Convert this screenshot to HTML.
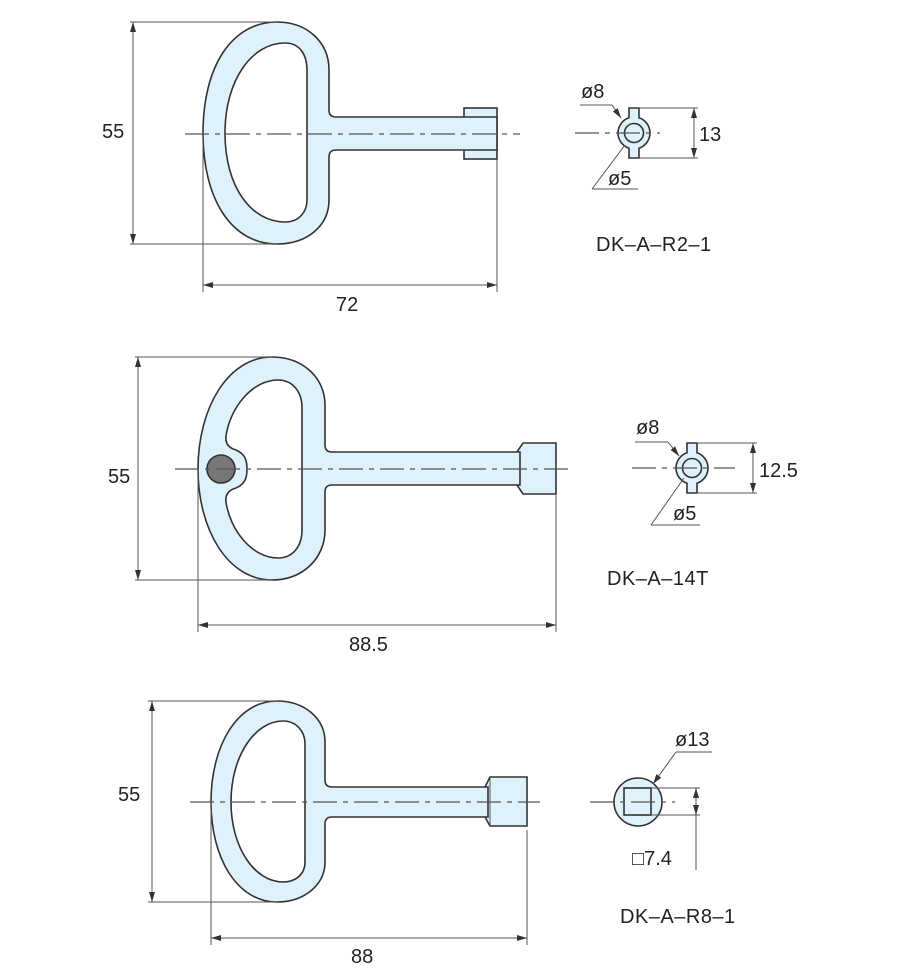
<!DOCTYPE html>
<html><head><meta charset="utf-8"><style>
html,body{margin:0;padding:0;background:#fff;}
svg{display:block;}
text{font-family:"Liberation Sans","DejaVu Sans",sans-serif;font-size:20px;fill:#222;}
</style></head><body>
<svg width="900" height="973" viewBox="0 0 900 973" xmlns="http://www.w3.org/2000/svg">
<defs>
<marker id="a" viewBox="0 0 10 6" refX="10" refY="3" markerWidth="10" markerHeight="6" orient="auto-start-reverse" markerUnits="userSpaceOnUse"><path d="M0,0 L10,3 L0,6 Z" fill="#333"/></marker>
</defs>
<g fill="#dff1fb" stroke="#333" stroke-width="1.6">
<!-- Key 1 -->
<rect x="464" y="108" width="33" height="51"/>
<path fill-rule="evenodd" d="M277,22 C307,22 329,42 329,70 L329,110 Q329,117 336,117 L497,117 L497,150 L336,150 Q329,150 329,157 L329,200 C329,226 307,244 277,244 C232,244 203,200 203,133 C203,66 232,22 277,22 Z M285,43 C300,43 307,55 307,70 L307,200 C307,212 299,222 285,222 C252,222 225,188 225,133 C225,80 252,43 285,43 Z"/>
<!-- Key 2 -->
<path d="M517,452 L523,443 L556,443 L556,494 L523,494 L517,485 Z"/>
<path fill-rule="evenodd" d="M272,357 C303,357 325,378 325,405 L325,445 Q325,452 332,452 L520,452 L520,485 L332,485 Q325,485 325,492 L325,530 C325,558 303,580 272,580 C228,580 198,530 198,469 C198,408 228,357 272,357 Z M278,380 C293,380 302,392 302,408 L302,530 C302,546 293,558 278,558 C252,558 230,530 226,502 C225,494 229,490 236,488 C245,484 247,478 247,469 C247,460 245,454 236,450 C229,448 225,444 226,436 C230,408 252,380 278,380 Z"/>
<!-- Key 3 -->
<path d="M485,787 L490,777 L527,777 L527,826 L490,826 L485,817 Z"/>
<line x1="490" y1="777" x2="490" y2="826" stroke-width="0.8"/>
<path fill-rule="evenodd" d="M277,701 C304,701 325,718 325,742 L325,780 Q325,787 332,787 L488,787 L488,817 L332,817 Q325,817 325,824 L325,862 C325,885 304,902 277,902 C237,902 211,858 211,802 C211,746 237,701 277,701 Z M283,721 C296,721 305,731 305,744 L305,862 C305,874 296,882 283,882 C255,882 231,848 231,802 C231,756 255,721 283,721 Z"/>
<!-- Sections -->
<path d="M629,108 L639,108 L639,117.8 A16,16 0 0 1 639,148.2 L639,158 L629,158 L629,148.2 A16,16 0 0 1 629,117.8 Z"/>
<circle cx="634" cy="133" r="9.5"/>
<path d="M687,443 L697,443 L697,452.8 A16,16 0 0 1 697,483.2 L697,493 L687,493 L687,483.2 A16,16 0 0 1 687,452.8 Z"/>
<circle cx="692" cy="468" r="9.5"/>
<circle cx="638" cy="802" r="24"/>
<rect x="624" y="788" width="27" height="27"/>
</g>
<circle cx="221" cy="469" r="14" fill="#777" stroke="#333" stroke-width="1.6"/>
<!-- centerlines -->
<g stroke="#555" stroke-width="1.2" stroke-dasharray="24 6 5 6">
<line x1="185" y1="134" x2="520" y2="134"/>
<line x1="575" y1="133" x2="660" y2="133"/>
<line x1="175" y1="469" x2="570" y2="469"/>
<line x1="632" y1="468" x2="735" y2="468"/>
<line x1="190" y1="802" x2="540" y2="802"/>
<line x1="590" y1="802" x2="675" y2="802"/>
</g>
<!-- dimension lines -->
<g stroke="#555" stroke-width="1" fill="none">
<line x1="130" y1="22" x2="277" y2="22"/><line x1="130" y1="244" x2="277" y2="244"/>
<line x1="133" y1="22" x2="133" y2="244" marker-start="url(#a)" marker-end="url(#a)"/>
<line x1="203" y1="134" x2="203" y2="292"/><line x1="497" y1="160" x2="497" y2="292"/>
<line x1="203" y1="285" x2="497" y2="285" marker-start="url(#a)" marker-end="url(#a)"/>
<line x1="639" y1="108" x2="698" y2="108"/><line x1="639" y1="158" x2="698" y2="158"/>
<line x1="694" y1="108" x2="694" y2="158" marker-start="url(#a)" marker-end="url(#a)"/>
<line x1="580" y1="105" x2="612" y2="105"/><line x1="612" y1="105" x2="621" y2="118" marker-end="url(#a)"/>
<line x1="592" y1="189" x2="638" y2="189"/><line x1="592" y1="189" x2="625" y2="145"/>

<line x1="135" y1="357" x2="272" y2="357"/><line x1="135" y1="580" x2="272" y2="580"/>
<line x1="138" y1="357" x2="138" y2="580" marker-start="url(#a)" marker-end="url(#a)"/>
<line x1="198" y1="469" x2="198" y2="632"/><line x1="556" y1="495" x2="556" y2="632"/>
<line x1="198" y1="625" x2="556" y2="625" marker-start="url(#a)" marker-end="url(#a)"/>
<line x1="697" y1="443" x2="757" y2="443"/><line x1="697" y1="493" x2="757" y2="493"/>
<line x1="753" y1="443" x2="753" y2="493" marker-start="url(#a)" marker-end="url(#a)"/>
<line x1="635" y1="442" x2="668" y2="442"/><line x1="668" y1="442" x2="679" y2="456" marker-end="url(#a)"/>
<line x1="651" y1="525" x2="700" y2="525"/><line x1="651" y1="525" x2="684" y2="478"/>

<line x1="148" y1="701" x2="277" y2="701"/><line x1="148" y1="902" x2="277" y2="902"/>
<line x1="152" y1="701" x2="152" y2="902" marker-start="url(#a)" marker-end="url(#a)"/>
<line x1="211" y1="802" x2="211" y2="945"/><line x1="527" y1="830" x2="527" y2="945"/>
<line x1="211" y1="938" x2="527" y2="938" marker-start="url(#a)" marker-end="url(#a)"/>
<line x1="651" y1="788" x2="700" y2="788"/><line x1="651" y1="815" x2="700" y2="815"/>
<line x1="696" y1="788" x2="696" y2="870"/>
<line x1="696" y1="795" x2="696" y2="788" marker-end="url(#a)"/>
<line x1="696" y1="808" x2="696" y2="815" marker-end="url(#a)"/>
<line x1="676" y1="752" x2="712" y2="752"/><line x1="676" y1="752" x2="653" y2="784" marker-end="url(#a)"/>
</g>
<!-- labels -->
<text x="102" y="138" font-size="21">55</text>
<text x="336" y="311" font-size="21">72</text>
<text x="581" y="98" font-size="19">ø8</text>
<text x="608" y="185" font-size="19">ø5</text>
<text x="699" y="141" font-size="21">13</text>
<text x="596" y="251" font-size="21" letter-spacing="0.5">DK–A–R2–1</text>

<text x="108" y="483" font-size="21">55</text>
<text x="349" y="651" font-size="21">88.5</text>
<text x="636" y="434" font-size="19">ø8</text>
<text x="673" y="520" font-size="19">ø5</text>
<text x="759" y="477" font-size="21">12.5</text>
<text x="607" y="585" font-size="21" letter-spacing="0.5">DK–A–14T</text>

<text x="118" y="801" font-size="21">55</text>
<text x="351" y="963" font-size="21">88</text>
<text x="675" y="746" font-size="19">ø13</text>
<text x="632" y="865" font-size="20">□7.4</text>
<text x="620" y="923" font-size="21" letter-spacing="0.5">DK–A–R8–1</text>
</svg>
</body></html>
